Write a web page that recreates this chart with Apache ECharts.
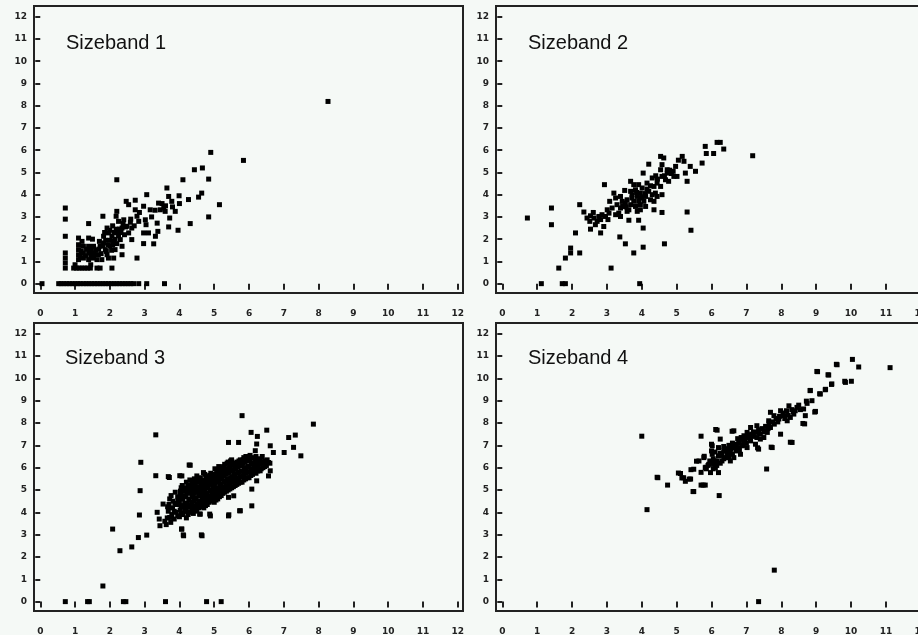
<!DOCTYPE html>
<html>
<head>
<meta charset="utf-8">
<script src="https://cdn.jsdelivr.net/npm/echarts@6/dist/echarts.min.js"></script>
<style>
html,body{margin:0;padding:0;background:#f5f9f6;}
#chart{width:918px;height:635px;}
</style>
</head>
<body>
<div id="chart"></div>
<script>
// ---- data ----
var titles = ['Sizeband 1', 'Sizeband 2', 'Sizeband 3', 'Sizeband 4'];
var tickValues = [0,1,2,3,4,5,6,7,8,9,10,11,12];

var sizeband1 = [
[0.05,0],[0.53,0],[0.6,0],[0.68,0],[0.76,0],[0.84,0],[0.92,0],[1.0,0],[1.08,0],[1.15,0],[1.24,0],[1.32,0],[1.4,0],[1.48,0],[1.56,0],[1.64,0],[1.72,0],[1.8,0],[1.88,0],[1.96,0],[2.04,0],[2.12,0],[2.2,0],[2.28,0],[2.36,0],[2.44,0],[2.52,0],[2.6,0],[2.68,0],[2.83,0],[3.06,0],[3.57,0],
[0.72,0.7],[0.96,0.7],[1.04,0.7],[1.12,0.7],[1.2,0.7],[1.28,0.7],[1.36,0.7],[1.44,0.7],[1.63,0.7],[1.72,0.7],[2.06,0.7],
[0.72,0.93],[0.72,1.15],[0.72,1.38],[0.72,2.13],[0.72,2.9],[0.72,3.4],
[1.1,1.08],[1.1,1.3],[1.1,1.53],[1.1,1.75],[1.1,2.05],
[1.24,1.15],[1.24,1.38],[1.24,1.68],
[1.39,1.08],[1.39,1.38],[1.39,1.68],[1.39,2.05],[1.39,2.7],
[1.53,1.15],[1.53,1.38],[1.53,1.68],
[1.63,1.08],[1.67,1.3],[1.72,1.68],[1.77,1.08],[1.8,3.03],[1.82,2.13],[1.82,1.83],[1.87,1.53],[1.92,1.3],[1.92,2.5],[1.96,2.28],[1.96,1.15],[2.01,1.68],[2.06,2.13],[2.11,1.9],[2.11,1.15],[2.15,1.53],[2.18,3.03],[2.2,2.28],[2.2,3.25],[2.2,4.67],[2.25,2.8],[2.3,1.98],[2.35,1.68],[2.35,1.3],[2.35,2.5],[2.4,2.87],[2.47,3.7],[2.49,2.58],[2.54,2.28],[2.54,3.55],[2.59,2.76],[2.63,2.5],[2.63,1.98],[2.73,3.75],[2.73,3.32],[2.78,3.03],[2.78,1.15],[2.83,2.8],[2.97,3.48],[2.97,2.28],[2.97,1.8],[3.02,2.87],[3.04,2.65],[3.06,4.0],[3.11,2.28],[3.16,3.32],[3.26,1.79],[3.31,2.13],[3.36,2.72],[3.38,2.35],[3.4,3.62],[3.45,3.32],[3.55,3.4],[3.59,3.25],[3.64,4.3],[3.69,3.92],[3.69,2.55],[3.72,2.95],[3.78,3.7],[3.88,3.25],[3.96,2.4],[3.99,3.95],[4.1,4.67],[4.26,3.78],[4.31,2.7],[4.43,5.12],[4.55,3.89],[4.64,4.07],[4.66,5.2],[4.84,4.7],[4.84,3.0],[4.9,5.9],[5.15,3.55],[5.84,5.54],[8.27,8.19],
[2.0,2.4],[2.08,2.6],[2.15,2.0],[2.25,2.15],[2.28,2.45],[2.42,2.2],[2.45,2.55],[1.88,1.95],[1.95,1.75],[2.05,1.5],[2.2,1.8],[1.85,2.3],[2.6,2.9],[2.7,2.6],[2.85,3.2],[3.2,3.0],[3.3,3.3],[3.5,3.6],[3.6,3.5],[3.8,3.45],[4.0,3.6],[1.6,1.5],[1.7,1.9],[1.5,2.0],
[1.15,1.2],[1.18,1.45],[1.2,1.9],[1.3,1.25],[1.33,1.55],[1.45,1.25],[1.47,1.5],[1.58,1.3],[1.68,1.55],[1.75,1.35],[1.8,1.7],[1.9,1.45],[2.0,1.95],[2.08,1.75],[2.18,2.45],[2.32,2.3],[2.12,2.3],[2.38,2.7],[1.0,0.85],[1.45,0.85]
];

var sizeband2 = [
[0.72,2.95],[1.41,3.4],[1.41,2.65],[2.1,2.28],[1.96,1.6],[1.96,1.38],[2.22,1.38],[1.81,1.15],[1.62,0.7],[1.12,0],[1.72,0],[1.81,0],[3.12,0.7],[3.94,0],[3.77,1.38],[4.04,1.64],[3.53,1.79],[3.37,2.1],[4.65,1.79],[5.41,2.4],[5.3,3.22],[4.58,3.2],[4.35,3.32],[4.04,2.5],[3.96,3.32],[3.91,2.85],[3.63,2.85],[2.93,4.45],[2.22,3.55],[2.34,3.22],[2.53,3.05],[2.61,3.2],[2.51,2.8],[2.53,2.45],[2.67,2.65],[2.82,2.88],[2.82,2.28],[2.96,3.02],[3.03,2.88],[3.06,3.17],[2.91,2.57],[3.08,3.7],[3.2,4.07],[3.25,3.85],[3.29,3.55],[3.34,3.17],[3.39,3.02],[3.44,3.7],[3.49,3.47],[3.51,4.19],[3.58,3.77],[3.63,3.32],[3.68,4.6],[3.72,4.0],[3.77,3.7],[3.82,4.22],[3.87,3.92],[3.91,3.7],[3.96,4.07],[4.01,4.3],[4.06,3.7],[4.11,3.92],[4.04,4.97],[4.15,4.52],[4.2,4.15],[4.2,5.37],[4.3,4.75],[4.35,4.37],[4.44,4.52],[4.54,5.12],[4.58,5.35],[4.63,5.65],[4.58,4.82],[4.68,4.67],[4.73,4.97],[4.77,4.6],[4.54,4.37],[4.58,4.0],[4.9,5.05],[4.97,5.27],[5.01,4.82],[5.16,5.72],[5.21,5.5],[5.25,4.97],[5.3,4.6],[5.39,5.27],[5.54,5.05],[5.73,5.42],[5.82,6.17],[5.85,5.85],[6.06,5.85],[6.16,6.35],[6.25,6.35],[6.35,6.05],[7.18,5.75],
[3.39,3.4],[3.53,3.63],[3.68,3.55],[3.82,3.47],[3.87,3.25],[3.96,3.55],[4.11,3.47],[4.25,3.77],[4.3,4.0],[4.39,4.07],[4.44,3.92],[4.35,3.7],[3.68,4.15],[3.77,4.45],[3.91,4.45],[3.58,3.25],[3.39,3.92],[3.15,3.4],[3.25,3.1],[3.01,3.32],[2.86,3.1],[2.77,3.02],[2.72,2.8],[2.63,2.95],[2.43,2.95],
[4.54,5.72],[4.92,4.82],[4.73,5.12],[4.4,4.85],[4.8,5.1],[5.05,5.55],
[3.72,3.85],[3.85,4.1],[4.0,3.9],[4.15,4.25],[4.25,4.4],[4.45,4.7],[4.65,4.85],[4.85,4.95],[3.55,3.45],[3.45,3.5],[3.95,3.85],[4.1,4.05]
];

var sizeband3 = [
[0.72,0],[1.36,0],[1.41,0],[2.39,0],[2.46,0],[3.6,0],[4.78,0],[5.2,0],[1.8,0.7],[2.08,3.25],[2.29,2.28],[2.63,2.45],[2.82,2.87],[3.06,2.98],[2.85,3.88],[2.87,4.97],[2.89,6.24],[3.32,7.47],[3.32,5.64],[3.36,4.0],[3.42,3.7],[3.44,3.4],[3.53,4.37],[3.68,5.6],[3.72,3.77],[4.01,5.64],[4.06,3.25],[4.11,2.99],[4.28,6.12],[4.63,2.99],[4.58,3.92],[4.87,3.92],[5.42,3.89],[5.73,4.07],[5.8,8.33],[7.85,7.95],[7.33,7.46],[7.14,7.35],[7.28,6.91],[7.49,6.53],[7.01,6.68],[6.51,7.68],[6.06,7.58],[6.24,7.4],[5.41,7.13],[5.7,7.13],[6.22,7.06],[6.61,6.98],[6.7,6.68],[6.18,6.76],[6.56,6.23],[6.61,5.86],[6.56,5.63],[6.22,5.41],[6.08,5.04],[6.32,5.86],[5.56,4.74],[5.41,4.67],[5.75,4.07],[6.08,4.29],[5.41,3.84],[4.89,3.84],[4.6,3.92],[4.07,3.25],[4.12,2.95],[4.65,2.95],[3.71,5.56],[4.07,5.63],[4.31,6.11],[5.13,6.05],[4.69,5.78],[4.5,5.63],
[3.62,3.45],[3.65,3.75],[3.68,4.05],[3.7,4.35],[3.72,4.6],[3.75,3.55],[3.76,4.75],[3.58,3.6],[3.66,4.25],
[3.78,3.9],[3.8,4.2],[3.82,4.5],[3.85,3.7],
[3.9,4.0],[3.92,4.35],[3.95,4.7],[3.88,4.9],
[4.0,3.8],[4.02,4.1],[4.0,4.45],[4.03,4.8],[4.05,5.1],
[4.1,3.9],[4.12,4.25],[4.1,4.6],[4.14,4.95],[4.08,5.2],
[4.2,3.75],[4.2,4.05],[4.22,4.4],[4.18,4.7],[4.24,5.0],[4.2,5.35],
[4.3,4.0],[4.32,4.3],[4.28,4.55],[4.3,4.85],[4.33,5.15],[4.3,5.45],
[4.4,3.95],[4.4,4.2],[4.42,4.5],[4.38,4.75],[4.41,5.0],[4.4,5.3],[4.43,5.5],
[4.5,4.1],[4.52,4.35],[4.48,4.6],[4.5,4.9],[4.53,5.15],[4.5,5.4],
[4.6,4.25],[4.62,4.5],[4.58,4.75],[4.6,5.0],[4.63,5.25],[4.6,5.55],
[4.7,4.2],[4.7,4.45],[4.72,4.7],[4.68,4.95],[4.71,5.2],[4.7,5.45],[4.73,5.7],
[4.8,4.35],[4.82,4.6],[4.78,4.85],[4.8,5.1],[4.83,5.35],[4.8,5.6],
[4.9,4.5],[4.9,4.75],[4.92,5.0],[4.88,5.25],[4.91,5.5],[4.9,5.75],
[5.0,4.45],[5.02,4.7],[4.98,4.95],[5.0,5.2],[5.03,5.45],[5.0,5.7],[5.02,5.95],
[5.1,4.6],[5.1,4.85],[5.12,5.1],[5.08,5.35],[5.11,5.6],[5.1,5.85],
[5.2,4.75],[5.22,5.0],[5.18,5.25],[5.2,5.5],[5.23,5.75],[5.2,6.0],
[5.3,4.9],[5.3,5.15],[5.32,5.4],[5.28,5.65],[5.31,5.9],[5.3,6.15],
[5.4,5.0],[5.42,5.25],[5.38,5.5],[5.4,5.75],[5.43,6.0],[5.4,6.25],
[5.5,5.1],[5.5,5.35],[5.52,5.6],[5.48,5.85],[5.51,6.1],[5.5,6.35],
[5.6,5.2],[5.62,5.45],[5.58,5.7],[5.6,5.95],[5.63,6.2],
[5.7,5.3],[5.7,5.55],[5.72,5.8],[5.68,6.05],[5.71,6.3],
[5.8,5.35],[5.82,5.6],[5.78,5.85],[5.8,6.1],[5.83,6.35],
[5.9,5.5],[5.9,5.75],[5.92,6.0],[5.88,6.25],[5.91,6.5],
[6.0,5.55],[6.02,5.8],[5.98,6.05],[6.0,6.3],[6.03,6.55],
[6.1,5.7],[6.1,5.95],[6.12,6.2],[6.08,6.45],
[6.2,5.75],[6.22,6.0],[6.18,6.25],[6.2,6.5],
[6.3,5.9],[6.3,6.15],[6.32,6.4],
[6.4,6.0],[6.42,6.25],[6.38,6.5],
[6.5,6.1],[6.52,6.35],
[6.6,6.2],
[3.85,4.05],[3.87,4.4],[3.95,3.85],[3.97,4.55],
[4.05,3.95],[4.05,4.3],[4.07,4.65],[4.03,4.95],
[4.15,4.05],[4.15,4.4],[4.17,4.75],[4.13,5.1],
[4.25,3.9],[4.25,4.25],[4.27,4.6],[4.23,4.9],[4.25,5.2],
[4.35,4.1],[4.35,4.45],[4.37,4.7],[4.33,5.0],[4.35,5.3],
[4.45,4.05],[4.45,4.3],[4.47,4.65],[4.43,4.85],[4.45,5.2],[4.47,5.45],
[4.55,4.2],[4.55,4.5],[4.57,4.8],[4.53,5.05],[4.55,5.35],
[4.65,4.35],[4.65,4.6],[4.67,4.85],[4.63,5.1],[4.65,5.4],
[4.75,4.3],[4.75,4.55],[4.77,4.8],[4.73,5.05],[4.75,5.3],[4.77,5.55],
[4.85,4.45],[4.85,4.7],[4.87,4.95],[4.83,5.2],[4.85,5.45],[4.87,5.65],
[4.95,4.6],[4.95,4.85],[4.97,5.1],[4.93,5.35],[4.95,5.6],
[5.05,4.55],[5.05,4.8],[5.07,5.05],[5.03,5.3],[5.05,5.55],[5.07,5.8],
[5.15,4.7],[5.15,4.95],[5.17,5.2],[5.13,5.45],[5.15,5.7],[5.17,5.95],
[5.25,4.85],[5.25,5.1],[5.27,5.35],[5.23,5.6],[5.25,5.85],[5.27,6.05],
[5.35,4.95],[5.35,5.2],[5.37,5.45],[5.33,5.7],[5.35,5.95],[5.37,6.2],
[5.45,5.05],[5.45,5.3],[5.47,5.55],[5.43,5.8],[5.45,6.05],[5.47,6.3],
[5.55,5.15],[5.55,5.4],[5.57,5.65],[5.53,5.9],[5.55,6.15],
[5.65,5.25],[5.65,5.5],[5.67,5.75],[5.63,6.0],[5.65,6.25],
[5.75,5.35],[5.75,5.6],[5.77,5.85],[5.73,6.1],[5.75,6.35],
[5.85,5.45],[5.85,5.7],[5.87,5.95],[5.83,6.2],[5.85,6.45],
[5.95,5.55],[5.95,5.8],[5.97,6.05],[5.93,6.3],
[6.05,5.65],[6.05,5.9],[6.07,6.15],[6.03,6.4],
[6.15,5.8],[6.15,6.05],[6.17,6.3],
[6.25,5.85],[6.25,6.1],[6.27,6.35],
[6.35,5.95],[6.35,6.2],[6.45,6.05],[6.45,6.3]
];

var sizeband4 = [
[4.0,7.41],[4.15,4.12],[4.44,5.57],[4.74,5.22],[5.05,5.76],[5.15,5.54],[5.25,5.39],[5.36,5.49],[5.41,5.91],[5.49,4.93],[5.57,6.29],[5.7,7.41],[5.7,5.79],[5.7,5.22],[5.79,6.51],[5.82,5.22],[5.84,6.02],[7.35,0],[7.8,1.41],[7.58,5.94],[6.22,4.75],[5.47,4.93],[5.76,5.22],[6.12,7.71],[6.59,7.63],[8.26,7.14],[7.71,6.92],[7.32,6.89],[8.96,8.49],[8.67,7.96],[8.83,9.46],[9.02,10.31],[9.34,10.16],[9.58,10.63],[10.04,10.85],[10.22,10.51],[9.82,9.87],[10.01,9.87],[9.44,9.73],[9.27,9.51],[9.1,9.31],[8.72,8.98],[11.12,10.48],[5.4,5.49],
[9.6,10.61],[9.04,10.3],[9.36,10.15],[9.45,9.75],[9.84,9.82],[9.26,9.49],[9.12,9.3],[8.83,9.45],[8.88,9.0],[8.74,8.88],[8.98,8.52],[8.64,8.63],[8.69,8.33],[8.45,8.7],[8.36,8.4],[8.22,8.77],[8.26,8.25],[8.17,8.1],[8.07,8.33],[7.98,8.55],[7.93,8.18],[7.79,8.33],[7.69,8.48],[7.64,8.1],[7.69,7.8],[7.98,7.5],[8.31,7.13],[8.62,7.98],[7.55,7.65],[7.4,7.5],[7.3,7.88],[7.2,7.58],[7.12,7.43],[7.02,7.58],[6.93,7.43],[6.88,7.28],[6.78,7.2],[7.12,7.2],[7.3,7.35],[7.4,7.28],[7.35,6.83],[7.74,6.9],[6.64,7.65],[6.59,6.98],[6.68,6.9],[6.54,6.68],[6.83,6.6],[6.78,6.9],[6.45,6.6],[6.35,6.75],[6.4,6.45],[6.3,6.3],[6.2,6.53],[6.16,6.3],[6.06,6.15],[6.11,6.0],[6.02,6.98],[6.02,6.6],[6.25,7.28],[6.16,7.68],[5.78,6.45],[5.82,6.0],[5.92,6.15],[5.64,6.3],[5.49,5.93],[5.11,5.74],[5.2,5.55],[4.46,5.55],[5.97,5.78],[6.2,5.78],[6.54,6.3],[6.64,6.45],[6.93,7.13],[7.12,7.8],[7.02,6.9],[6.88,6.98],[7.26,7.05],[7.5,7.35],[7.6,7.58],
[6.05,6.4],[6.1,6.7],[6.2,6.9],[6.3,6.55],[6.35,6.95],[6.45,6.85],[6.5,7.0],[6.6,7.1],[6.7,7.05],[6.75,7.3],[6.85,7.35],[6.95,7.3],[7.05,7.45],[7.15,7.5],[7.25,7.6],[7.35,7.7],[7.45,7.75],[7.55,7.85],[7.65,8.0],[7.75,8.05],[7.85,8.2],[7.95,8.3],[8.05,8.45],[8.15,8.55],[8.3,8.6],[8.4,8.55],[8.5,8.8],[6.0,6.2],[6.05,5.95],[6.15,6.1],[6.25,6.2],[6.35,6.4],[6.5,6.5],[6.6,6.6],[6.7,6.75],[6.8,6.8],[6.9,7.0],[7.0,7.1],[7.1,7.3],[5.95,6.3],[6.0,6.75],[6.0,7.05],[5.85,5.95],[5.9,6.1],
[6.25,6.65],[6.4,6.75],[6.55,6.85],[6.65,6.95],[6.8,7.1],[6.95,7.2],[7.08,7.35],[7.2,7.4],[7.35,7.55],[7.5,7.6],[7.62,7.75],[7.8,7.95],[7.9,8.05],[8.1,8.2],[8.2,8.35],[8.35,8.5],[8.55,8.6],[6.45,6.45],[6.7,6.9],[6.1,6.3]
];

var panels = [sizeband1, sizeband2, sizeband3, sizeband4];

// ---- layout ----
var gridBoxes = [
  {left: 34, top: 6, width: 429, height: 287},
  {left: 496, top: 6, width: 430, height: 287},
  {left: 34, top: 323, width: 429, height: 288},
  {left: 496, top: 323, width: 430, height: 288}
];
var titlePos = [[66, 33], [528, 33], [65, 348], [528, 348]];
var bg = '#f5f9f6';
var labelFont = {fontSize: 9, fontFamily: 'DejaVu Sans', fontWeight: 'bold', color: '#222'};

var option = {
  backgroundColor: bg,
  animation: false,
  title: titles.map(function (t, i) {
    return {text: t, left: titlePos[i][0], top: titlePos[i][1], padding: 0,
      textStyle: {fontSize: 20, fontFamily: 'Liberation Sans', fontWeight: 'normal', color: '#111'}};
  }),
  grid: gridBoxes.map(function (g) {
    return Object.assign({show: true, borderColor: '#222', borderWidth: 2, backgroundColor: bg,
      containLabel: false, outerBoundsMode: 'none'}, g);
  }),
  xAxis: gridBoxes.map(function (g, i) {
    return {type: 'value', gridIndex: i, min: -0.18, max: 12.15,
      axisLine: {show: false}, splitLine: {show: false},
      axisTick: {show: true, inside: false, length: 6, lineStyle: {color: '#222', width: 2}, customValues: tickValues},
      axisLabel: Object.assign({margin: 16, customValues: tickValues}, labelFont)};
  }),
  yAxis: gridBoxes.map(function (g, i) {
    return {type: 'value', gridIndex: i, min: -0.42, max: 12.48,
      axisLine: {show: false}, splitLine: {show: false},
      axisTick: {show: true, inside: false, length: 5, lineStyle: {color: '#222', width: 2}, customValues: tickValues},
      axisLabel: Object.assign({margin: 7, customValues: tickValues}, labelFont)};
  }),
  series: panels.map(function (d, i) {
    return {type: 'scatter', xAxisIndex: i, yAxisIndex: i, data: d,
      symbol: 'rect', symbolSize: 5, itemStyle: {color: '#000', opacity: 1}};
  })
};

var chart = echarts.init(document.getElementById('chart'), null, {renderer: 'canvas'});
chart.setOption(option);
</script>
</body>
</html>
